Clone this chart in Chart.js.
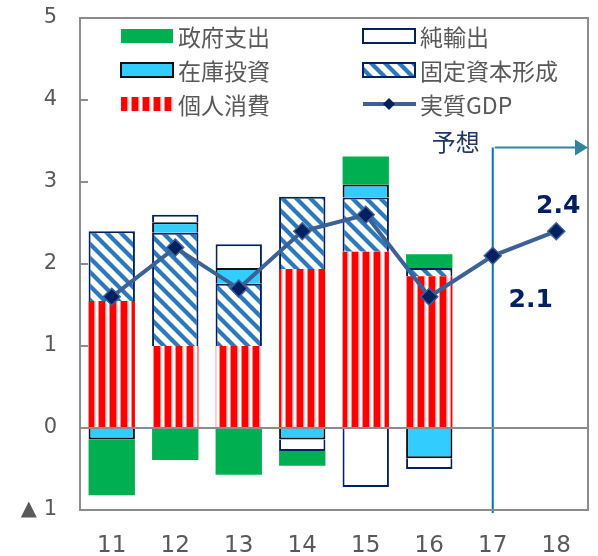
<!DOCTYPE html>
<html>
<head>
<meta charset="utf-8">
<script src="https://cdn.jsdelivr.net/npm/chart.js@4.4.1/dist/chart.umd.min.js"></script>
<style>
  html, body { margin: 0; padding: 0; background: #fff; }
</style>
</head>
<body>
<canvas id="chart" width="598" height="556"></canvas>
<script>
const years = ['11', '12', '13', '14', '15', '16', '17', '18'];
const consumption = [1.55, 1.0, 1.0, 1.94, 2.15, 1.85, null, null];
const fixedCapital = [0.85, 1.38, 0.76, 0.88, 0.66, 0.10, null, null];
const inventory = [-0.14, 0.13, 0.19, -0.14, 0.16, -0.37, null, null];
const netExports = [null, 0.09, 0.29, -0.14, -0.72, -0.13, null, null];
const government = [-0.68, -0.39, -0.57, -0.18, 0.34, 0.17, null, null];
const realGdp = [1.6, 2.2, 1.7, 2.4, 2.6, 1.6, 2.1, 2.4];
const forecastFrom = 6; // index of '17'

const gray = '#595959';
const navy = '#002060';

// patterns
function stripePattern() {
    const c = document.createElement('canvas');
    c.width = 11; c.height = 4;
    const g = c.getContext('2d');
    g.fillStyle = '#fff'; g.fillRect(0, 0, 11, 4);
    g.fillStyle = '#ff0000'; g.fillRect(0, 0, 6, 4);
    g.fillStyle = '#ff8c8c'; g.fillRect(6, 0, 1, 4); g.fillRect(10, 0, 1, 4);
    g.fillStyle = '#ffd8d8'; g.fillRect(7, 0, 1, 4);
    return g.createPattern(c, 'repeat');
}
function diagPattern() {
    const c = document.createElement('canvas');
    c.width = 14; c.height = 14;
    const g = c.getContext('2d');
    g.fillStyle = '#fff'; g.fillRect(0, 0, 14, 14);
    g.strokeStyle = '#2a78c0'; g.lineWidth = 4.2;
    [-14, 0, 14].forEach(o => {
        g.beginPath(); g.moveTo(o - 7, -7); g.lineTo(o + 21, 21); g.stroke();
    });
    return g.createPattern(c, 'repeat');
}
const redStripes = stripePattern();
const blueDiag = diagPattern();

const legendItems = [
    { label: '政府支出', fill: '#00b050', border: null, col: 0, row: 0 },
    { label: '在庫投資', fill: '#33ccff', border: '#111', col: 0, row: 1 },
    { label: '個人消費', fill: redStripes, border: null, col: 0, row: 2 },
    { label: '純輸出', fill: '#fff', border: navy, col: 1, row: 0 },
    { label: '固定資本形成', fill: blueDiag, border: navy, col: 1, row: 1 },
    { label: '実質GDP', line: true, col: 1, row: 2 }
];

function diamond(ctx, x, y, r) {
    ctx.beginPath();
    ctx.moveTo(x, y - r); ctx.lineTo(x + r, y); ctx.lineTo(x, y + r); ctx.lineTo(x - r, y);
    ctx.closePath();
}

const decor = {
    id: 'decor',
    beforeDatasetsDraw(chart) {
        const { ctx, chartArea: a, scales: { x, y } } = chart;
        const fx = x.getPixelForValue(forecastFrom);
        ctx.save();
        ctx.strokeStyle = '#0070c0'; ctx.lineWidth = 2;
        ctx.beginPath(); ctx.moveTo(fx, y.getPixelForValue(3.42)); ctx.lineTo(fx, a.bottom + 3); ctx.stroke();
        ctx.restore();
    },
    afterDatasetsDraw(chart) {
        const { ctx, chartArea: a, scales: { y } } = chart;
        ctx.save();
        ctx.strokeStyle = '#8c8c8c'; ctx.lineWidth = 2;
        ctx.strokeRect(a.left, a.top, a.right - a.left, a.bottom - a.top);
        const y0 = y.getPixelForValue(0);
        ctx.beginPath(); ctx.moveTo(a.left, y0); ctx.lineTo(a.right, y0); ctx.stroke();
        for (let v = -1; v <= 5; v++) {
            const py = y.getPixelForValue(v);
            ctx.beginPath(); ctx.moveTo(a.left, py); ctx.lineTo(a.left + 8, py); ctx.stroke();
        }
        ctx.restore();
    },
    afterDraw(chart) {
        const { ctx, chartArea: a, scales: { x, y } } = chart;
        ctx.save();
        // legend
        legendItems.forEach(it => {
            const sx = it.col ? 363 : 121;
            const cy = 36 + it.row * 34;
            if (it.line) {
                ctx.strokeStyle = '#3b6196'; ctx.lineWidth = 4;
                ctx.beginPath(); ctx.moveTo(sx, cy); ctx.lineTo(sx + 53, cy); ctx.stroke();
                diamond(ctx, sx + 26, cy, 6);
                ctx.fillStyle = navy; ctx.fill();
            } else {
                ctx.fillStyle = it.fill;
                ctx.fillRect(sx, cy - 7, 52, 14);
                if (it.border) {
                    ctx.strokeStyle = it.border; ctx.lineWidth = 2;
                    ctx.strokeRect(sx, cy - 7, 52, 14);
                }
            }
            ctx.fillStyle = gray;
            ctx.font = '23px "Noto Sans CJK JP"';
            ctx.textBaseline = 'middle';
            ctx.textAlign = 'left';
            ctx.fillText(it.label, sx + 57, cy + 1);
        });

        // forecast arrow
        const fx = x.getPixelForValue(forecastFrom);
        const fy = y.getPixelForValue(3.42);
        ctx.strokeStyle = '#31849b'; ctx.fillStyle = '#31849b'; ctx.lineWidth = 2;
        ctx.beginPath(); ctx.moveTo(fx + 2, fy); ctx.lineTo(a.right - 10, fy); ctx.stroke();
        ctx.beginPath(); ctx.moveTo(a.right, fy); ctx.lineTo(a.right - 13, fy - 8); ctx.lineTo(a.right - 13, fy + 8); ctx.closePath(); ctx.fill();

        ctx.fillStyle = '#1f3864';
        ctx.font = '24px "Noto Sans CJK JP"';
        ctx.textAlign = 'right'; ctx.textBaseline = 'alphabetic';
        ctx.fillText('予想', fx - 13, fy + 3);

        // value labels
        ctx.fillStyle = navy;
        ctx.font = 'bold 25px "DejaVu Sans"';
        ctx.textAlign = 'center';
        ctx.fillText(realGdp[7].toFixed(1), x.getPixelForValue(7) + 2, y.getPixelForValue(realGdp[7]) - 18);
        ctx.fillText(realGdp[6].toFixed(1), x.getPixelForValue(6) + 38, y.getPixelForValue(realGdp[6]) + 51);
        ctx.restore();
    }
};

const barBase = { type: 'bar', order: 2, stack: 'gdp', barPercentage: 0.73, categoryPercentage: 1 };

new Chart(document.getElementById('chart'), {
    type: 'bar',
    data: {
        labels: years,
        datasets: [
            { ...barBase, label: '個人消費', data: consumption, backgroundColor: redStripes, borderWidth: 0 },
            { ...barBase, label: '固定資本形成', data: fixedCapital, backgroundColor: blueDiag, borderColor: navy, borderWidth: 2 },
            { ...barBase, label: '在庫投資', data: inventory, backgroundColor: '#33ccff', borderColor: '#111', borderWidth: 2 },
            { ...barBase, label: '純輸出', data: netExports, backgroundColor: '#fff', borderColor: navy, borderWidth: 2 },
            { ...barBase, label: '政府支出', data: government, backgroundColor: '#00b050', borderWidth: 0 },
            {
                type: 'line', order: 0, stack: 'line', label: '実質GDP', data: realGdp,
                borderColor: '#3b6196', borderWidth: 4, tension: 0,
                pointStyle: 'rectRot', pointRadius: 8.5, pointBackgroundColor: navy,
                pointBorderColor: '#3b6196', pointBorderWidth: 1.5
            }
        ]
    },
    options: {
        responsive: false,
        animation: false,
        layout: { padding: { left: 0, right: 10, top: 18, bottom: 0 } },
        plugins: { legend: { display: false }, tooltip: { enabled: false } },
        scales: {
            x: {
                stacked: true,
                grid: { display: false },
                border: { display: false },
                ticks: { color: gray, font: { family: 'DejaVu Sans', size: 23 }, padding: 14 },
                afterFit: s => { s.height = 46; }
            },
            y: {
                stacked: true,
                min: -1, max: 5,
                grid: { display: false, drawTicks: false },
                border: { display: false },
                ticks: {
                    stepSize: 1, padding: 23, color: gray,
                    font: { family: 'DejaVu Sans', size: 21 },
                    callback: v => v < 0 ? '▲ ' + Math.abs(v) : v
                },
                afterFit: s => { s.width = 80; s.paddingTop = 0; s.paddingBottom = 0; }
            }
        }
    },
    plugins: [decor]
});
</script>
</body>
</html>
